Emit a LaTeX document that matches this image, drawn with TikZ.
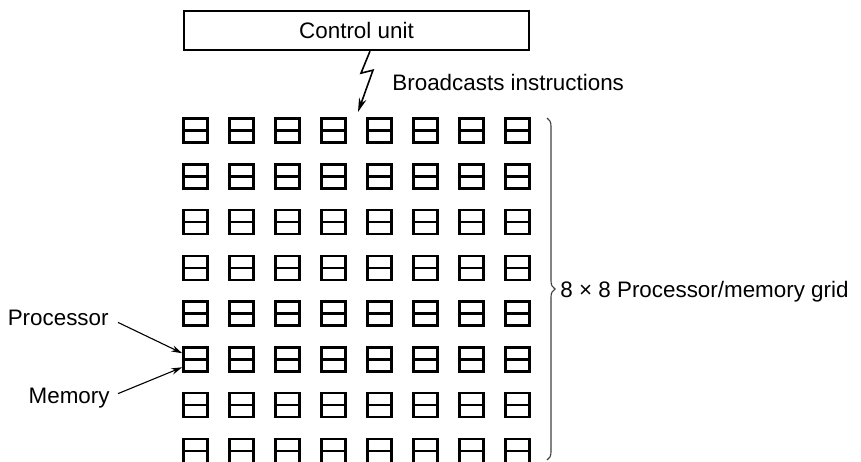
\documentclass[tikz,border=0pt]{standalone}
\usepackage{fontspec}
\setmainfont{Liberation Sans}
\usetikzlibrary{arrows.meta,decorations.pathreplacing,calc}
\begin{document}
\begin{tikzpicture}[x=0.5pt,y=-0.5pt,
  lbl/.style={font=\fontsize{11.2pt}{13pt}\selectfont, inner sep=0pt},
  cell/.style={draw, line width=1.25pt, minimum width=12pt, minimum height=12pt, inner sep=0pt,
    path picture={\draw[line width=1.25pt] (path picture bounding box.west) -- (path picture bounding box.east);}},
  ctrl/.style={draw, line width=1.15pt, minimum width=172.5pt, minimum height=19.5pt, inner sep=0pt,
    font=\fontsize{11.2pt}{13pt}\selectfont},
  ptr/.style={line width=0.55pt, -{Stealth[length=5.5pt,width=3.2pt]}},
  bolt/.style={line width=0.8pt, -{Stealth[length=7pt,width=3.8pt]}},
  brc/.style={decorate, decoration={brace, amplitude=4pt}, line width=0.55pt, draw=black!75}
]
\useasboundingbox (0,0) rectangle (861,461);
\clip (0,0) rectangle (861,461);
\node[ctrl] (cu) at (356.5,30.5) {Control unit};
\foreach \r in {1,...,8} {
  \foreach \c in {1,...,8} {
    \node[cell] (c-\r-\c) at ({195.5+46*(\c-1)}, {130.5+45.75*(\r-1)}) {};
  }
}
\coordinate (bt) at (358,112);
\draw[bolt] ($(cu.south)+(13.5,0)$) -- ++(-9,22) -- ++(12,-3) -- (bt);
\node[lbl, anchor=base west] (bi) at (392,90) {Broadcasts instructions};
\node[lbl, anchor=base east] (proc) at (109,325) {Processor};
\node[lbl, anchor=base east] (mem) at (110,403) {Memory};
\draw[ptr] ($(proc.east)+(9,5)$) -- ($(c-6-1.west)+(0,-6)$);
\draw[ptr] ($(mem.east)+(8,-4)$) -- ($(c-6-1.west)+(0,8)$);
\draw[brc] (547,118) -- (547,460);
\node[lbl, anchor=base west] (grid) at (560,297) {8 × 8 Processor/memory grid};
\end{tikzpicture}
\end{document}
